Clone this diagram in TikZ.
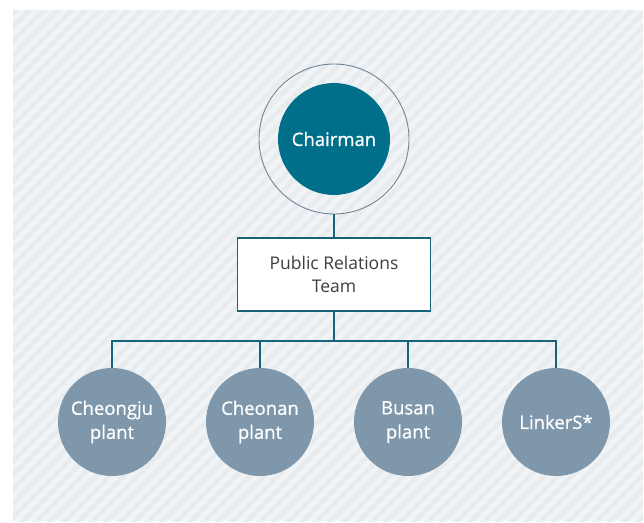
\documentclass[tikz,border=0pt]{standalone}
\usepackage{fontspec}
\setmainfont{Open Sans}
\newfontfamily\semifont{Open Sans}[FakeBold=0.7]
\usepackage{xcolor}
\usetikzlibrary{positioning, calc}
\definecolor{chairteal}{RGB}{0,111,138}
\definecolor{linkteal}{RGB}{24,98,122}
\definecolor{ringgray}{RGB}{112,134,152}
\definecolor{plantgray}{RGB}{127,151,171}
\definecolor{bgpanel}{RGB}{241,244,247}
\definecolor{bgstripe}{RGB}{233,236,239}
\definecolor{textgray}{RGB}{62,62,62}
\tikzset{
  chair/.style={circle, fill=chairteal, text=white, minimum size=112pt, inner sep=0pt, font=\semifont\fontsize{18.5}{22}\selectfont},
  ring/.style={circle, draw=ringgray, line width=0.9pt, minimum size=150pt, inner sep=0pt},
  team/.style={draw=linkteal, line width=1.2pt, fill=white, text=textgray, align=center, minimum width=193pt, minimum height=73pt, font=\fontsize{17.5}{23}\selectfont},
  plant/.style={circle, fill=plantgray, text=white, align=center, minimum size=108pt, inner sep=0pt, font=\semifont\fontsize{18.5}{24}\selectfont},
  link/.style={draw=linkteal, line width=1.2pt},
  stripe/.style={draw=bgstripe, line width=5pt}
}
\begin{document}
\begin{tikzpicture}[x=1pt, y=-1pt]
    \useasboundingbox (0,0) rectangle (644,522);
    % hatched panel
    \fill[bgpanel] (13,10) rectangle (643,521);
    \begin{scope}
      \clip (13,10) rectangle (643,521);
      \foreach \i in {-560,-546,...,660}
        \draw[stripe] (\i,530) -- ++(540,-540);
    \end{scope}
    % nodes
    \node[ring] (ring) at (334,139) {};
    \node[chair] (chair) at (334,139) {Chairman};
    \node[team] (pr) at (334,274.5) {Public Relations\\Team};
    \coordinate (bus) at (334,341);
    \node[plant] (cheongju) at (112,422) {Cheongju\\plant};
    \node[plant] (cheonan) at (260,422) {Cheonan\\plant};
    \node[plant] (busan) at (408,422) {Busan\\plant};
    \node[plant] (linkers) at (556,422) {LinkerS*};
    % connectors
    \draw[link] (ring.south) -- (pr.north);
    \draw[link] (pr.south) -- (bus);
    \foreach \n in {cheongju, cheonan, busan, linkers}
      \draw[link] (bus) -| (\n.north);
\end{tikzpicture}
\end{document}
